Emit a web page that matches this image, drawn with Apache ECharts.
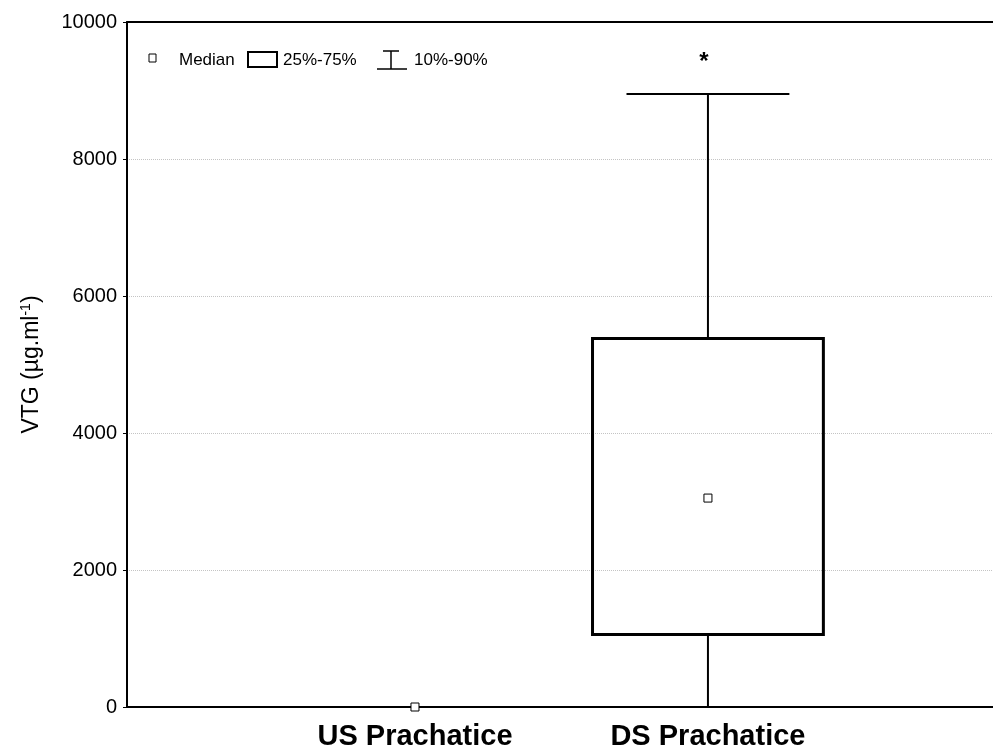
<!DOCTYPE html>
<html>
<head>
<meta charset="utf-8">
<script src="https://cdn.jsdelivr.net/npm/echarts@6/dist/echarts.min.js"></script>
<style>
  html, body { margin: 0; padding: 0; background: #fff; }
  #chart { width: 993px; height: 751px; }
</style>
</head>
<body>
<div id="chart"></div>
<script>
// box plot of VTG per site, median / quartiles / 10-90 percentiles
var categories = ['US Prachatice', 'DS Prachatice'];
var positions = [1, 2];
var p10 = [0, 0];
var q1 = [0, 1060];
var median = [0, 3050];
var q3 = [0, 5380];
var p90 = [0, 8950];
var marks = ['', '*'];
var yTicks = [0, 2000, 4000, 6000, 8000, 10000];

var font = '"Liberation Sans", Arial, sans-serif';

var boxData = categories.map(function(c, i) {
  return [positions[i], p10[i], q1[i], median[i], q3[i], p90[i], i];
});

var chart = echarts.init(document.getElementById('chart'), null, { renderer: 'canvas' });
chart.setOption({
  animation: false,
  backgroundColor: '#fff',
  grid: { left: 127, right: 0, top: 22, bottom: 44 },
  xAxis: [{
    type: 'value',
    min: 0.017,
    max: 2.973,
    axisLine: { show: true, lineStyle: { color: '#000', width: 2 } },
    axisTick: { show: false },
    splitLine: { show: false },
    axisLabel: {
      customValues: positions,
      margin: 15,
      color: '#000',
      fontFamily: font,
      fontSize: 29,
      fontWeight: 'bold',
      formatter: function(v) { var i = positions.indexOf(v); return i >= 0 ? categories[i] : ''; }
    }
  }, {
    type: 'value',
    position: 'top',
    min: 0.017,
    max: 2.973,
    axisLine: { show: true, lineStyle: { color: '#000', width: 2 } },
    axisTick: { show: false },
    axisLabel: { show: false },
    splitLine: { show: false }
  }],
  yAxis: {
    type: 'value',
    min: yTicks[0],
    max: yTicks[yTicks.length - 1],
    interval: 2000,
    name: 'VTG (µg.ml{sup|-1})',
    nameLocation: 'middle',
    nameRotate: 90,
    nameGap: 82,
    nameTextStyle: {
      color: '#000',
      fontFamily: font,
      fontSize: 23,
      rich: {
        sup: { fontSize: 14, fontFamily: font, color: '#000', padding: [0, 0, 12, 0] }
      }
    },
    axisLine: { show: true, lineStyle: { color: '#000', width: 2 } },
    axisTick: { show: true, length: 4, lineStyle: { color: '#000' } },
    axisLabel: {
      color: '#000', fontFamily: font, fontSize: 20, margin: 10,
      formatter: function(v) { return String(v); }
    },
    splitLine: { show: true, lineStyle: { color: '#c4c4c4', type: 'dotted', width: 1 } }
  },
  graphic: [
    { type: 'rect', shape: { x: 149, y: 54, width: 7, height: 8 }, style: { fill: '#fff', stroke: '#000', lineWidth: 1 } },
    { type: 'text', x: 179, y: 52, style: { text: 'Median', font: '17px ' + font, fill: '#000' } },
    { type: 'rect', shape: { x: 248, y: 52, width: 29, height: 15 }, style: { fill: '#fff', stroke: '#000', lineWidth: 2 } },
    { type: 'text', x: 283, y: 52, style: { text: '25%-75%', font: '17px ' + font, fill: '#000' } },
    { type: 'line', shape: { x1: 383, y1: 51, x2: 399, y2: 51 }, style: { stroke: '#000', lineWidth: 1.5 } },
    { type: 'line', shape: { x1: 391, y1: 51, x2: 391, y2: 69 }, style: { stroke: '#000', lineWidth: 1.5 } },
    { type: 'line', shape: { x1: 377, y1: 69, x2: 407, y2: 69 }, style: { stroke: '#000', lineWidth: 1.5 } },
    { type: 'text', x: 414, y: 52, style: { text: '10%-90%', font: '17px ' + font, fill: '#000' } }
  ],
  series: [{
    type: 'custom',
    data: boxData,
    clip: false,
    z: 10,
    renderItem: function(params, api) {
      var x = api.value(0);
      var idx = api.value(6);
      var lo = api.coord([x, api.value(1)]);
      var b1 = api.coord([x, api.value(2)]);
      var md = api.coord([x, api.value(3)]);
      var b3 = api.coord([x, api.value(4)]);
      var hi = api.coord([x, api.value(5)]);
      var halfBox = api.size([0.394, 0])[0];
      var halfCap = api.size([0.278, 0])[0];
      var cx = lo[0];
      var line = { stroke: '#000', lineWidth: 2 };
      var children = [
        { type: 'line', shape: { x1: cx, y1: b3[1], x2: cx, y2: hi[1] }, style: line },
        { type: 'line', shape: { x1: cx, y1: lo[1], x2: cx, y2: b1[1] }, style: line },
        { type: 'line', shape: { x1: cx - halfCap, y1: hi[1], x2: cx + halfCap, y2: hi[1] }, style: line },
        { type: 'line', shape: { x1: cx - halfCap, y1: lo[1], x2: cx + halfCap, y2: lo[1] }, style: line }
      ];
      if (b1[1] - b3[1] > 0.5) {
        children.push({ type: 'rect', shape: { x: cx - halfBox, y: b3[1], width: halfBox * 2, height: b1[1] - b3[1] },
          style: { fill: 'rgba(0,0,0,0)', stroke: '#000', lineWidth: 3 } });
      }
      children.push({ type: 'rect', shape: { x: cx - 4, y: md[1] - 4, width: 8, height: 8 },
        style: { fill: '#fff', stroke: '#000', lineWidth: 1 } });
      if (marks[idx]) {
        children.push({ type: 'text', x: cx - 4, y: hi[1] - 44,
          style: { text: marks[idx], font: 'bold 24px ' + font, fill: '#000', textAlign: 'center', textVerticalAlign: 'top' } });
      }
      return { type: 'group', children: children };
    }
  }]
});
</script>
</body>
</html>
